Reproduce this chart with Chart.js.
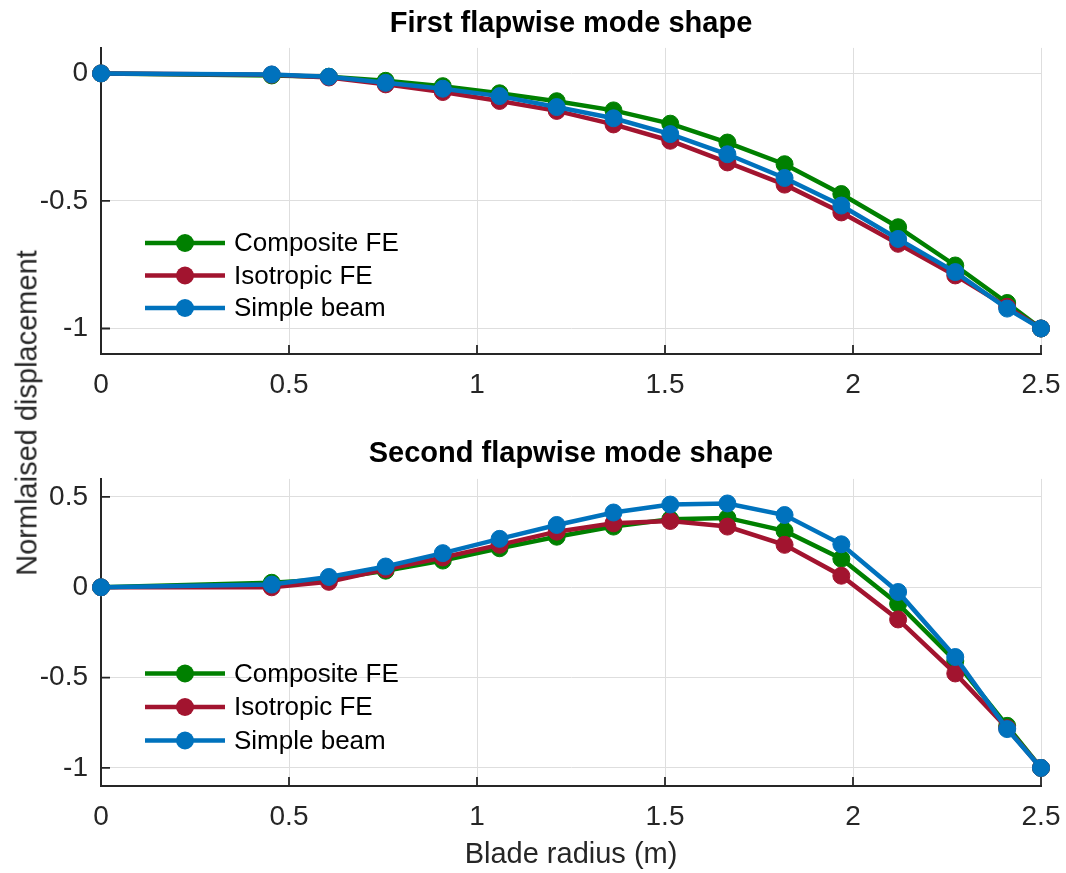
<!DOCTYPE html>
<html><head><meta charset="utf-8">
<script src="https://cdn.jsdelivr.net/npm/chart.js@4.4.1/dist/chart.umd.min.js"></script>
<style>
html,body{margin:0;padding:0;background:#fff;}
#wrap{position:relative;width:1066px;height:873px;overflow:hidden;background:#fff;}
canvas{position:absolute;left:0;}
#c1{top:0;} #c2{top:420px;}
#ylab{position:absolute;left:27px;top:413px;transform:translate(-50%,-50%) rotate(-90deg);font:29px "Liberation Sans",Arial,sans-serif;color:#262626;white-space:nowrap;line-height:1;}
</style></head>
<body><div id="wrap">
<canvas id="c1" width="1066" height="420"></canvas>
<canvas id="c2" width="1066" height="453"></canvas>
<div id="ylab">Normlaised displacement</div>
</div>
<script>
// ---- data ----
const radius = [0, 0.454, 0.606, 0.757, 0.909, 1.06, 1.212, 1.363, 1.514, 1.666, 1.818, 1.969, 2.12, 2.272, 2.41, 2.5];
const seriesNames = ['Composite FE', 'Isotropic FE', 'Simple beam'];
const seriesColors = ['#008000', '#A2142F', '#0072BD'];

const mode1Composite = [0, -0.008, -0.013, -0.029, -0.05, -0.078, -0.109, -0.145, -0.197, -0.271, -0.356, -0.473, -0.603, -0.753, -0.9, -1];
const mode1Isotropic = [0, -0.005, -0.016, -0.043, -0.073, -0.108, -0.147, -0.2, -0.264, -0.349, -0.436, -0.545, -0.668, -0.792, -0.915, -1];
const mode1Simple    = [0, -0.004, -0.013, -0.037, -0.06, -0.089, -0.132, -0.176, -0.238, -0.317, -0.41, -0.518, -0.649, -0.779, -0.922, -1];

const mode2Composite = [0, 0.025, 0.045, 0.092, 0.148, 0.216, 0.28, 0.336, 0.376, 0.384, 0.312, 0.158, -0.092, -0.408, -0.767, -1];
const mode2Isotropic = [0, 0.0, 0.03, 0.1, 0.165, 0.235, 0.308, 0.354, 0.367, 0.336, 0.235, 0.064, -0.178, -0.477, -0.78, -1];
const mode2Simple    = [0, 0.015, 0.057, 0.115, 0.189, 0.268, 0.345, 0.414, 0.458, 0.464, 0.4, 0.238, -0.026, -0.386, -0.785, -1];

const xTicks = [0, 0.5, 1, 1.5, 2, 2.5];
const xTickLabels = ['0', '0.5', '1', '1.5', '2', '2.5'];
const yTicks1 = [-1, -0.5, 0];
const yTickLabels1 = ['-1', '-0.5', '0'];
const yTicks2 = [-1, -0.5, 0, 0.5];
const yTickLabels2 = ['-1', '-0.5', '0', '0.5'];

const title1 = 'First flapwise mode shape';
const title2 = 'Second flapwise mode shape';
const xTitle = 'Blade radius (m)';

// ---- styling ----
const FAMILY = '"Liberation Sans", Arial, Helvetica, sans-serif';
Chart.defaults.font.family = FAMILY;
const AXIS = '#262626';
const GRID = '#dedede';

const inwardTicks = {
  id: 'inwardTicks',
  beforeDatasetsDraw(chart) {
    const {ctx, chartArea: a, scales: {x, y}} = chart;
    ctx.save();
    ctx.strokeStyle = AXIS;
    ctx.lineWidth = 1.8;
    ctx.beginPath();
    x.ticks.forEach(t => { const px = x.getPixelForValue(t.value); ctx.moveTo(px, a.bottom); ctx.lineTo(px, a.bottom - 9); });
    y.ticks.forEach(t => { const py = y.getPixelForValue(t.value); ctx.moveTo(a.left, py); ctx.lineTo(a.left + 9, py); });
    ctx.stroke();
    ctx.restore();
  }
};

const insideLegend = {
  id: 'insideLegend',
  afterDatasetsDraw(chart, args, opts) {
    const ctx = chart.ctx;
    ctx.save();
    chart.data.datasets.forEach((ds, i) => {
      const yy = opts.rows[i];
      ctx.strokeStyle = ds.borderColor;
      ctx.lineWidth = 4.5;
      ctx.beginPath(); ctx.moveTo(opts.x0, yy); ctx.lineTo(opts.x1, yy); ctx.stroke();
      ctx.fillStyle = ds.borderColor;
      ctx.beginPath(); ctx.arc((opts.x0 + opts.x1) / 2, yy, 9, 0, Math.PI * 2); ctx.fill();
      ctx.fillStyle = '#000';
      ctx.font = '26px ' + FAMILY;
      ctx.textBaseline = 'middle';
      ctx.textAlign = 'left';
      ctx.fillText(ds.label, opts.textX, yy + 1);
    });
    ctx.restore();
  }
};

function makeChart(id, title, titlePad, series, yMin, yMax, yTicks, yLabels, xAxisH, showXTitle, legendRows) {
  const datasets = series.map((vals, i) => ({
    label: seriesNames[i],
    data: radius.map((r, k) => ({x: r, y: vals[k]})),
    borderColor: seriesColors[i],
    backgroundColor: seriesColors[i],
    pointBackgroundColor: seriesColors[i],
    pointBorderColor: seriesColors[i],
    pointRadius: 8.5,
    pointBorderWidth: 1,
    borderWidth: 4.5,
    tension: 0,
    clip: false,
    order: 3 - i
  }));
  return new Chart(document.getElementById(id), {
    type: 'line',
    data: {datasets},
    options: {
      responsive: false,
      animation: false,
      events: [],
      layout: {padding: {left: 0, right: 25, top: 0, bottom: 0}},
      scales: {
        x: {
          type: 'linear', min: 0, max: 2.5,
          afterBuildTicks: s => { s.ticks = xTicks.map(v => ({value: v})); },
          afterFit: s => { s.height = xAxisH; s.paddingLeft = 0; s.paddingRight = 0; },
          ticks: {
            callback: v => xTickLabels[xTicks.indexOf(v)],
            font: {size: 28}, color: AXIS, padding: 14.5, maxRotation: 0, autoSkip: false
          },
          grid: {color: GRID, lineWidth: 1, drawTicks: false},
          border: {color: AXIS, width: 2},
          title: {display: showXTitle, text: xTitle, font: {size: 29}, color: AXIS, padding: {top: 0, bottom: 1}}
        },
        y: {
          type: 'linear', min: yMin, max: yMax,
          afterBuildTicks: s => { s.ticks = yTicks.map(v => ({value: v})); },
          afterFit: s => { s.width = 101; s.paddingTop = 0; s.paddingBottom = 0; },
          ticks: {
            callback: v => yLabels[yTicks.indexOf(v)],
            font: {size: 28}, color: AXIS, padding: 13, autoSkip: false
          },
          grid: {color: GRID, lineWidth: 1, drawTicks: false},
          border: {color: AXIS, width: 2}
        }
      },
      plugins: {
        legend: {display: false},
        tooltip: {enabled: false},
        title: {
          display: true, text: title, fullSize: false,
          font: {size: 29, weight: 'bold'}, color: '#000',
          padding: titlePad
        },
        insideLegend: {x0: 145, x1: 225, textX: 234, rows: legendRows}
      }
    },
    plugins: [inwardTicks, insideLegend]
  });
}

makeChart('c1', title1, {top: 7, bottom: 6.1},
  [mode1Composite, mode1Isotropic, mode1Simple],
  -1.1, 0.1, yTicks1, yTickLabels1, 66, false, [243, 275.5, 308]);

makeChart('c2', title2, {top: 17, bottom: 7.1},
  [mode2Composite, mode2Isotropic, mode2Simple],
  -1.1, 0.6, yTicks2, yTickLabels2, 87, true, [253.5, 287, 320.5]);
</script>
</body></html>
